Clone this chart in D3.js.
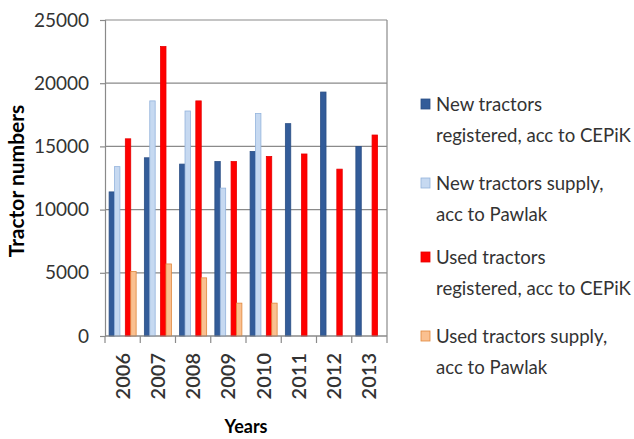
<!DOCTYPE html>
<html>
<head>
<meta charset="utf-8">
<script src="https://cdn.jsdelivr.net/npm/d3@7"></script>
<style>
  body { margin: 0; background: #fff; }
  svg { display: block; font-family: Lato, "Open Sans", sans-serif; }
  .tick-label { fill: #333; }
  .legend text { fill: #333; }
</style>
</head>
<body>
<svg id="chart" width="634" height="439"></svg>
<script>
const years = ['2006', '2007', '2008', '2009', '2010', '2011', '2012', '2013'];
const newRegistered = [11400, 14100, 13600, 13800, 14600, 16800, 19300, 15000];
const newSupply = [13400, 18600, 17800, 11700, 17600, null, null, null];
const usedRegistered = [15600, 22900, 18600, 13800, 14200, 14400, 13200, 15900];
const usedSupply = [5100, 5700, 4600, 2600, 2600, null, null, null];
const yTicks = [0, 5000, 10000, 15000, 20000, 25000];

const series = [
  { key: 'newReg', values: newRegistered, fill: '#335c99', stroke: '#2b4f85',
    label: ['New tractors', 'registered, acc to CEPiK'] },
  { key: 'newSup', values: newSupply, fill: '#c6d9f1', stroke: '#93b3dc',
    label: ['New tractors supply,', 'acc to Pawlak'] },
  { key: 'usedReg', values: usedRegistered, fill: '#ff0000', stroke: '#e60000',
    label: ['Used tractors', 'registered, acc to CEPiK'] },
  { key: 'usedSup', values: usedSupply, fill: '#fac090', stroke: '#e0883c',
    label: ['Used tractors supply,', 'acc to Pawlak'] }
];
// empty slot between the new and used pairs, as in the original
const slots = ['newReg', 'newSup', 'gap', 'usedReg', 'usedSup'];

const MARGIN = { top: 20, left: 105, right: 247, bottom: 103 };
const W = 634, H = 439;

const svg = d3.select('#chart');

const x = d3.scaleBand()
  .domain(years)
  .range([MARGIN.left, W - MARGIN.right])
  .padding(0);

const xSub = d3.scaleBand()
  .domain(slots)
  .range([0, x.bandwidth()])
  .paddingInner(0)
  .paddingOuter(0.76);

const y = d3.scaleLinear()
  .domain([0, 25000])
  .range([H - MARGIN.bottom, MARGIN.top]);

const x0 = x.range()[0], x1 = x.range()[1];

// grid
svg.append('g')
  .selectAll('line')
  .data(yTicks)
  .join('line')
  .attr('x1', x0)
  .attr('x2', x1)
  .attr('y1', d => y(d))
  .attr('y2', d => y(d))
  .attr('stroke', '#8a8a8a')
  .attr('stroke-width', 1.2);

// right border
svg.append('line')
  .attr('x1', x1).attr('x2', x1)
  .attr('y1', y(25000)).attr('y2', y(0))
  .attr('stroke', '#8a8a8a')
  .attr('stroke-width', 1.2);

// bars
series.forEach(s => {
  svg.append('g')
    .selectAll('rect')
    .data(years.map((yr, i) => ({ yr, v: s.values[i] })).filter(d => d.v != null))
    .join('rect')
    .attr('x', d => x(d.yr) + xSub(s.key))
    .attr('width', xSub.bandwidth())
    .attr('y', d => y(d.v))
    .attr('height', d => y(0) - y(d.v))
    .attr('fill', s.fill)
    .attr('stroke', s.stroke)
    .attr('stroke-width', 0.8);
});

// y axis
const yAxis = d3.axisLeft(y)
  .tickValues(yTicks)
  .tickSize(5)
  .tickPadding(11)
  .tickFormat(d3.format('d'));

const gy = svg.append('g')
  .attr('transform', `translate(${x0},0)`)
  .call(yAxis);
gy.select('.domain').attr('stroke', '#8a8a8a').attr('stroke-width', 1.2);
gy.selectAll('.tick line').attr('stroke', '#8a8a8a').attr('stroke-width', 1.2);
gy.selectAll('.tick text')
  .attr('class', 'tick-label')
  .style('font-size', '19px')
  .style('font-family', 'Lato, sans-serif');

// x axis
const gx = svg.append('g')
  .attr('transform', `translate(0,${y(0)})`);
gx.append('line')
  .attr('x1', x0).attr('x2', x1)
  .attr('stroke', '#8a8a8a').attr('stroke-width', 1.2);
gx.selectAll('.xtick')
  .data(years.concat(['end']))
  .join('line')
  .attr('x1', (d, i) => i < years.length ? x(d) : x1)
  .attr('x2', (d, i) => i < years.length ? x(d) : x1)
  .attr('y1', 0).attr('y2', 7)
  .attr('stroke', '#8a8a8a').attr('stroke-width', 1.2);
gx.selectAll('text')
  .data(years)
  .join('text')
  .attr('class', 'tick-label')
  .attr('transform', d => `translate(${x(d) + x.bandwidth() / 2},17) rotate(-90)`)
  .attr('text-anchor', 'end')
  .attr('dy', '0.35em')
  .style('font-size', '20px')
  .style('font-weight', 600)
  .text(d => d);

// axis titles
svg.append('text')
  .attr('transform', `translate(17,${(y(0) + y(25000)) / 2 + 3}) rotate(-90)`)
  .attr('text-anchor', 'middle')
  .attr('dy', '0.35em')
  .style('font-size', '21px')
  .style('font-weight', 'bold')
  .text('Tractor numbers');

svg.append('text')
  .attr('x', (x0 + x1) / 2)
  .attr('y', 433)
  .attr('text-anchor', 'middle')
  .style('font-size', '18px')
  .style('font-weight', 'bold')
  .text('Years');

// legend
const legendTops = [104, 183, 257, 336];
const legend = svg.append('g').attr('class', 'legend')
  .selectAll('g')
  .data(series)
  .join('g')
  .attr('transform', (d, i) => `translate(421,${legendTops[i]})`);

legend.append('rect')
  .attr('x', 0).attr('y', -5)
  .attr('width', 9).attr('height', 10)
  .attr('fill', d => d.fill)
  .attr('stroke', d => d.stroke)
  .attr('stroke-width', 0.8);

legend.each(function (d) {
  d3.select(this).selectAll('text')
    .data(d.label)
    .join('text')
    .attr('x', 15)
    .attr('y', (t, i) => i * 31)
    .attr('dy', '0.35em')
    .style('font-size', '18.6px')
    .text(t => t);
});
</script>
</body>
</html>
